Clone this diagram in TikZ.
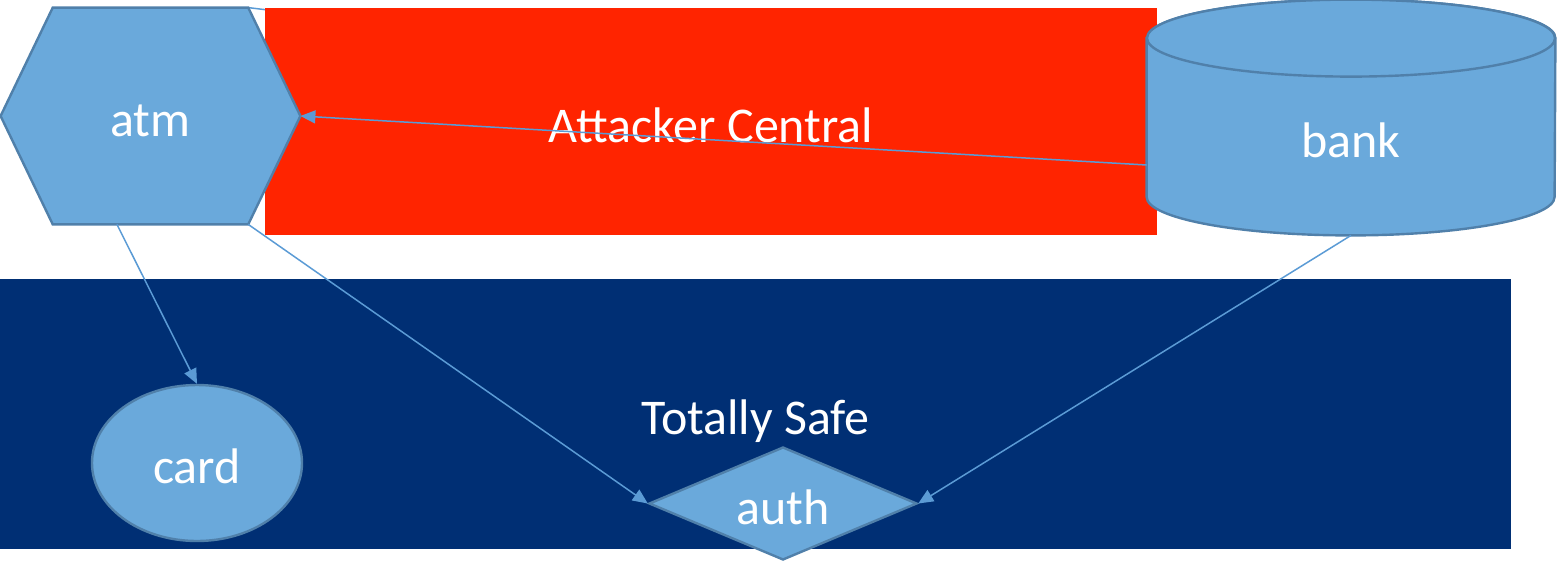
\documentclass[tikz,border=0pt]{standalone}
\usepackage{fontspec}
\setmainfont{Carlito}
\usetikzlibrary{shapes.geometric,arrows.meta,calc}
\definecolor{attackred}{RGB}{255,36,0}
\definecolor{safeblue}{RGB}{0,47,116}
\definecolor{partfill}{RGB}{106,169,219}
\definecolor{partline}{RGB}{80,128,170}
\definecolor{linkblue}{RGB}{91,155,213}
\pgfdeclarelayer{under}
\pgfdeclarelayer{zone}
\pgfdeclarelayer{shape}
\pgfsetlayers{under,zone,shape,main}

\begin{document}
\begin{tikzpicture}[x=0.5pt, y=-0.5pt, font=\fontsize{25}{30}\selectfont,
  zone/.style={inner sep=0, text=white, text height=20.5pt, text depth=0pt},
  part/.style={fill=partfill, draw=partline, line width=1.2pt, text=white, inner sep=0, text height=20.5pt, text depth=0pt},
  plain/.style={inner sep=0, text=white, text height=20.5pt, text depth=0pt},
  link/.style={draw=linkblue, line width=0.75pt, -{Triangle[length=7.5pt,width=6.5pt]}}]

\useasboundingbox (0,0) rectangle (1557,563);

% zones
\begin{pgfonlayer}{zone}
\node[zone, fill=attackred, minimum width=446pt, minimum height=113.5pt] (attacker) at (711,121.5) {Attacker Central};
\node[zone, fill=safeblue, minimum width=755.5pt, minimum height=135pt] (safe) at (755.5,414) {Totally Safe};
\end{pgfonlayer}

% parts
\node[plain, minimum width=149.5pt, minimum height=108pt] (atm) at (150.5,116) {atm};
\coordinate (atmtl) at ($(atm.north west)!0.174!(atm.north east)$);
\coordinate (atmtr) at ($(atm.north west)!0.826!(atm.north east)$);
\coordinate (atmbl) at ($(atm.south west)!0.174!(atm.south east)$);
\coordinate (atmbr) at ($(atm.south west)!0.826!(atm.south east)$);
\coordinate (atmfoot) at ($(atm.south west)!0.388!(atm.south east)$);

\node[plain, minimum width=204pt, minimum height=117.5pt, text height=39.5pt] (bank) at (1351,117.5) {bank};
\coordinate (bankport) at ($(bank.west)+(0,47.5)$);

\node[part, ellipse, minimum width=105pt, minimum height=78pt] (card) at (197,463) {card};
\node[part, diamond, shape aspect=2.4, minimum width=134pt, minimum height=56.5pt] (auth) at (783,503.5) {auth};

\begin{pgfonlayer}{shape}
\draw[part] (atm.west) -- (atmtl) -- (atmtr) -- (atm.east) -- (atmbr) -- (atmbl) -- cycle;
\draw[part] ($(bank.north west)+(0,38.5)$) -- ($(bank.south west)+(0,-38.5)$)
  arc[start angle=180, end angle=360, x radius=102pt, y radius=19.25pt]
  -- ($(bank.north east)+(0,38.5)$)
  arc[start angle=0, end angle=180, x radius=102pt, y radius=19.25pt] -- cycle;
\draw[part] ($(bank.north)+(0,38.5)$) ellipse[x radius=102pt, y radius=19.25pt];
\end{pgfonlayer}

% links
\begin{pgfonlayer}{under}
\draw[link] (atmtr) -- (bank.west);
\end{pgfonlayer}
\draw[link] (atmfoot) -- (card.north);
\draw[link] (atmbr) -- (auth.west);
\draw[link] (bank.south) -- (auth.east);
\draw[link] (bankport) -- (atm.east);
\end{tikzpicture}
\end{document}
